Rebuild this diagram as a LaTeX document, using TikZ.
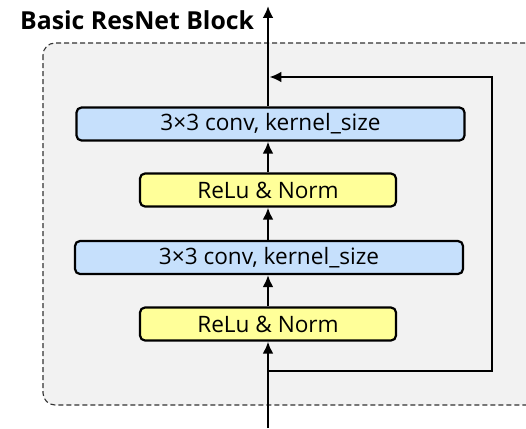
\documentclass[tikz,border=0pt]{standalone}
\usepackage{fontspec}
\setmainfont{Open Sans}
\usetikzlibrary{arrows.meta}
\definecolor{convblue}{HTML}{C6E0FC}
\definecolor{normyellow}{HTML}{FFFF99}
\definecolor{panelgray}{HTML}{F2F2F2}
\tikzset{
  layer/.style={draw=black, line width=2.2pt, rounded corners=5pt, minimum height=33pt,
    inner sep=0pt, font=\fontsize{22.6}{26}\selectfont},
  conv/.style={layer, fill=convblue, minimum width=388pt},
  norm/.style={layer, fill=normyellow, minimum width=256pt},
  flow/.style={line width=2.9pt, -{Latex[length=12pt,width=11pt]}},
}
\begin{document}
\begin{tikzpicture}[x=1pt,y=-1pt]
  \useasboundingbox (0,0) rectangle (526,428);
  % block panel
  \draw[draw=black!80, fill=panelgray, dash pattern=on 5pt off 3pt, line width=1.1pt, rounded corners=12pt]
    (43,43) rectangle (540,405);
  % title
  \node[anchor=base west, font=\bfseries\fontsize{24.8}{28}\selectfont, inner sep=0pt] (title) at (20,30) {Basic ResNet Block};
  % layers
  \node[conv] (c1) at (270.5,124) {3×3 conv, kernel\_size};
  \node[norm] (n1) at (268,190) {ReLu \& Norm};
  \node[conv] (c2) at (269,257.5) {3×3 conv, kernel\_size};
  \node[norm] (n2) at (268,324) {ReLu \& Norm};
  % path coordinates
  \coordinate (in) at (268,428);
  \coordinate (split) at (268,371);
  \coordinate (out) at (268,6);
  \coordinate (join) at (268,77);
  \coordinate (sr1) at (492,371);
  \coordinate (sr2) at (492,77);
  % main flow
  \draw[flow] (in) -- (n2.south -| in);
  \draw[flow] (n2.north -| in) -- (c2.south -| in);
  \draw[flow] (c2.north -| in) -- (n1.south -| in);
  \draw[flow] (n1.north -| in) -- (c1.south -| in);
  \draw[flow] (c1.north -| in) -- (out);
  % skip connection
  \draw[flow, line join=miter] (split) -- (sr1) -- (sr2) -- ([xshift=1.45pt]join);
\end{tikzpicture}
\end{document}
